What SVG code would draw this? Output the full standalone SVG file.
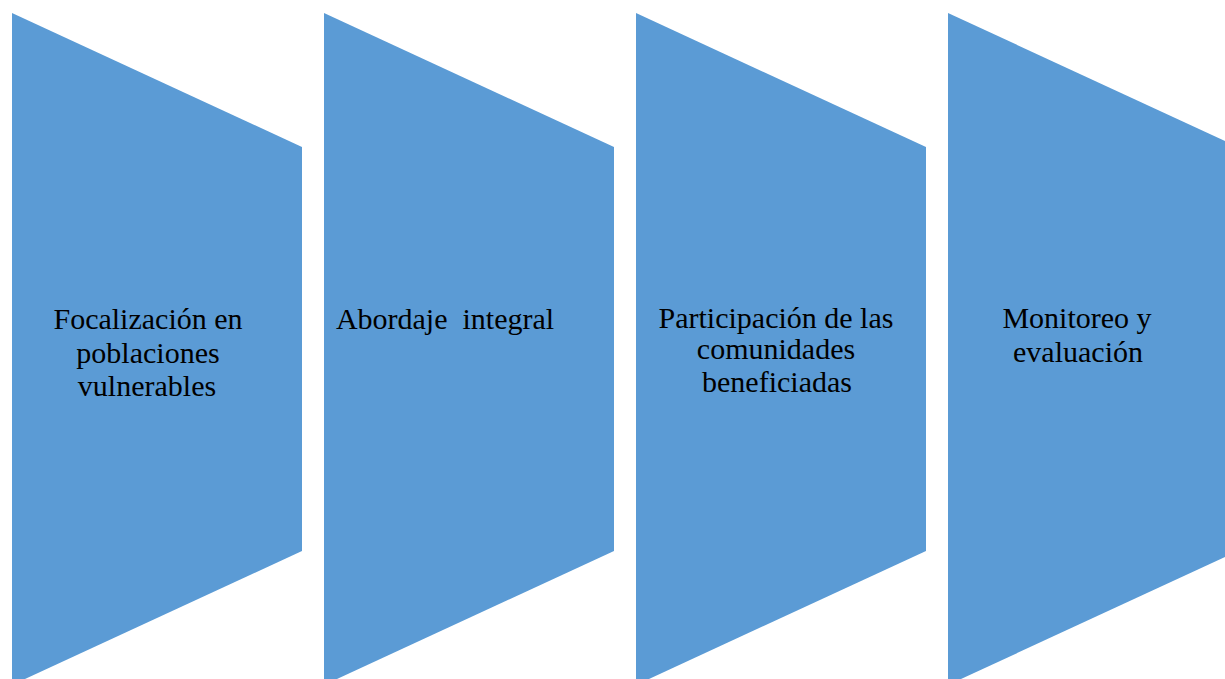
<svg xmlns="http://www.w3.org/2000/svg" width="1225" height="679" viewBox="0 0 1225 679">
<style>
.s{fill:#5B9BD5;stroke:none}
.t{font-family:"Liberation Serif","Times New Roman",serif;font-size:30px;fill:#000;text-anchor:middle;white-space:pre}
</style>
<rect width="1225" height="679" fill="#fff"/>
<g id="node1">
<polygon class="s" points="12,13 302,147 302,551 12,685"/>
<text class="t" x="148" y="329">Focalización en</text>
<text class="t" x="148" y="363">poblaciones</text>
<text class="t" x="147" y="396">vulnerables</text>
</g>
<g id="node2">
<polygon class="s" points="324,13 614,147 614,551 324,685"/>
<text class="t" x="445" y="329">Abordaje  integral</text>
</g>
<g id="node3">
<polygon class="s" points="636,13 926,147 926,551 636,685"/>
<text class="t" x="776" y="328">Participación de las</text>
<text class="t" x="776" y="359">comunidades</text>
<text class="t" x="777" y="392">beneficiadas</text>
</g>
<g id="node4">
<polygon class="s" points="948,13 1238,147 1238,551 948,685"/>
<text class="t" x="1077" y="328">Monitoreo y</text>
<text class="t" x="1078" y="362">evaluación</text>
</g>
<g id="connectors"/>
</svg>
